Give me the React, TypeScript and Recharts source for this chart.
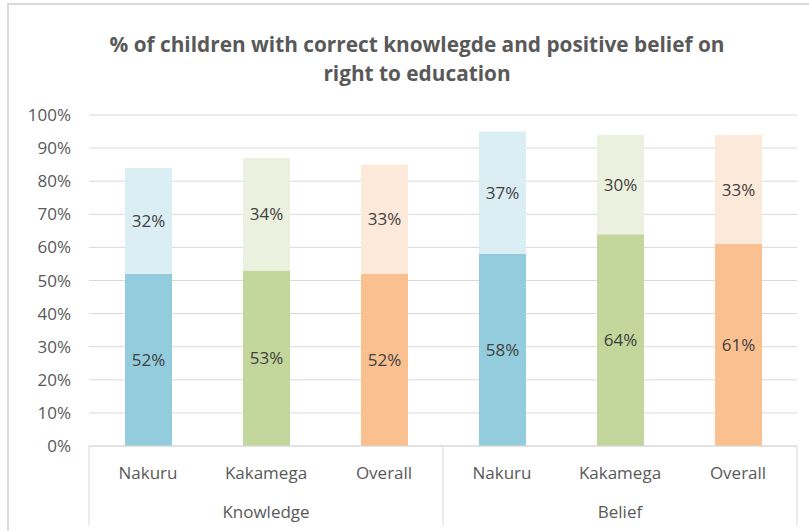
import React from 'react';
import { BarChart, Bar, XAxis, YAxis, CartesianGrid, Cell, LabelList } from 'recharts';

const regions = ['Nakuru', 'Kakamega', 'Overall', 'Nakuru', 'Kakamega', 'Overall'];
const groups = ['Knowledge', 'Knowledge', 'Knowledge', 'Belief', 'Belief', 'Belief'];
const baseValues = [52, 53, 52, 58, 64, 61];
const topValues = [32, 34, 33, 37, 30, 33];
const yTicks = [0, 10, 20, 30, 40, 50, 60, 70, 80, 90, 100];

const darkColors = ['#93CDDD', '#C3D69B', '#FAC090'];
const lightColors = ['#DBEEF4', '#EBF1DE', '#FDE9D9'];

const data = regions.map((r, i) => ({
  name: r,
  group: groups[i],
  base: baseValues[i],
  top: topValues[i],
}));

const W = 809;
const H = 531;
const LEFT = 89;
const RIGHT = 12;
const HALF_BAND = (W - LEFT - RIGHT) / regions.length / 2;
const FONT = '"Open Sans", "Noto Sans", sans-serif';

const XTick = (props: any) => {
  const { x, y, payload, index } = props;
  const isGroupStart = index === 0 || groups[index] !== groups[index - 1];
  const isLast = index === regions.length - 1;
  const isGroupMid = index % 3 === 1;
  return (
    <g>
      <text x={x} y={y + 33} textAnchor="middle" fill="#595959" fontSize={17} fontFamily={FONT}>
        {payload.value}
      </text>
      {isGroupMid && (
        <text x={x} y={y + 72} textAnchor="middle" fill="#595959" fontSize={17} fontFamily={FONT}>
          {groups[index]}
        </text>
      )}
      {isGroupStart && (
        <line x1={x - HALF_BAND} x2={x - HALF_BAND} y1={y} y2={y + 80} stroke="#D9D9D9" />
      )}
      {isLast && (
        <line x1={x + HALF_BAND} x2={x + HALF_BAND} y1={y} y2={y + 80} stroke="#D9D9D9" />
      )}
    </g>
  );
};

const YTick = (props: any) => {
  const { y, payload } = props;
  return (
    <text x={71} y={y + 6} textAnchor="end" fill="#595959" fontSize={17} fontFamily={FONT}>
      {`${payload.value}%`}
    </text>
  );
};

export default function App() {
  return (
    <div style={{ position: 'absolute', left: 0, top: 0, width: W, height: H, background: '#fff', fontFamily: FONT, overflow: 'hidden' }}>
      <div
        style={{
          position: 'absolute',
          left: 7,
          top: 3,
          width: W,
          height: H,
          border: '2px solid #D9D9D9',
        }}
      />
      <div
        style={{
          position: 'absolute',
          left: 0,
          width: 834,
          top: 30,
          textAlign: 'center',
          fontWeight: 'bold',
          fontSize: 20.8,
          lineHeight: '29px',
          color: '#595959',
        }}
      >
        % of children with correct knowlegde and positive belief on
        <br />
        right to education
      </div>
      <div style={{ position: 'absolute', left: 0, top: 0 }}>
        <BarChart width={W} height={H} data={data} margin={{ top: 115, right: RIGHT, bottom: 0, left: 0 }}>
          <CartesianGrid vertical={false} stroke="#D9D9D9" />
          <XAxis
            dataKey="name"
            height={85}
            interval={0}
            tickLine={false}
            tickSize={0}
            tickMargin={0}
            axisLine={{ stroke: '#D9D9D9' }}
            tick={<XTick />}
          />
          <YAxis
            width={LEFT}
            domain={[0, 100]}
            ticks={yTicks}
            axisLine={false}
            tickLine={false}
            tick={<YTick />}
          />
          <Bar dataKey="base" stackId="a" barSize={47} isAnimationActive={false}>
            {data.map((d, i) => (
              <Cell key={`b-${i}`} fill={darkColors[i % 3]} />
            ))}
            <LabelList
              dataKey="base"
              position="center"
              formatter={(v: any) => `${v}%`}
              fill="#404040"
              fontSize={17}
              fontFamily={FONT}
            />
          </Bar>
          <Bar dataKey="top" stackId="a" barSize={47} isAnimationActive={false}>
            {data.map((d, i) => (
              <Cell key={`t-${i}`} fill={lightColors[i % 3]} />
            ))}
            <LabelList
              dataKey="top"
              position="center"
              formatter={(v: any) => `${v}%`}
              fill="#404040"
              fontSize={17}
              fontFamily={FONT}
            />
          </Bar>
        </BarChart>
      </div>
    </div>
  );
}
